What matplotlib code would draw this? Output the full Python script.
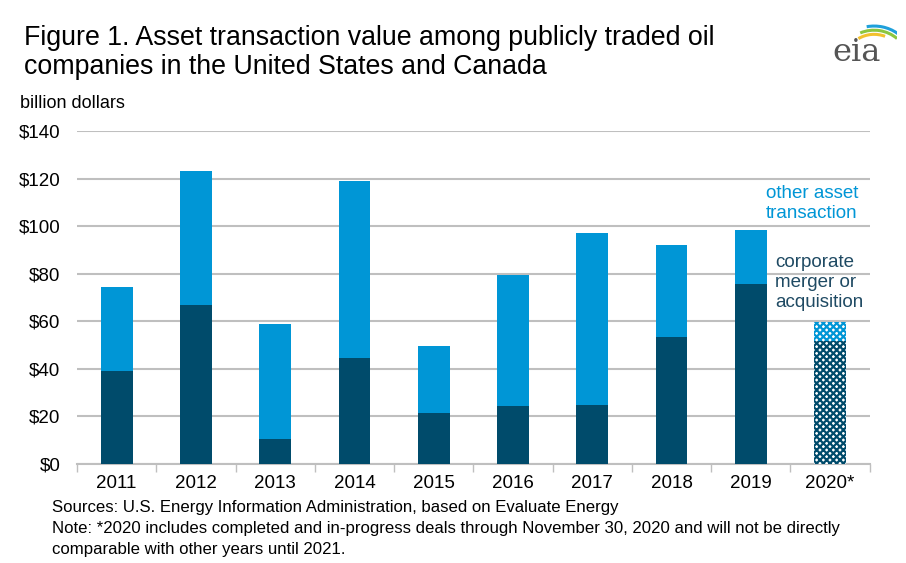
import matplotlib
matplotlib.use("Agg")
import matplotlib.pyplot as plt
from matplotlib.patches import Arc
from matplotlib import font_manager

years = ["2011", "2012", "2013", "2014", "2015", "2016", "2017", "2018", "2019", "2020*"]
merger = [39.0, 66.8, 10.3, 44.4, 21.3, 24.4, 24.9, 53.4, 75.9, 51.7]
total = [74.6, 123.1, 58.9, 118.9, 49.7, 79.6, 97.0, 92.3, 98.3, 59.9]
other = [t - m for t, m in zip(total, merger)]
yticks = [0, 20, 40, 60, 80, 100, 120, 140]

LIGHT = "#0096d6"
DARK = "#004b6b"
GRID = "#bfbfbf"
TEXT = "#000000"

names = {f.name for f in font_manager.fontManager.ttflist}
SANS = "Liberation Sans" if "Liberation Sans" in names else "DejaVu Sans"
NARROW = "Liberation Sans Narrow" if "Liberation Sans Narrow" in names else SANS
plt.rcParams["font.family"] = [SANS, "DejaVu Sans"]
plt.rcParams["hatch.linewidth"] = 1.6

fig = plt.figure(figsize=(9.06, 5.63), dpi=100)
ax = fig.add_axes([0.085, 0.176, 0.875, 0.591])

x = list(range(len(years)))
w = 0.4
n = len(years) - 1
ax.bar(x[:n], merger[:n], width=w, color=DARK, zorder=3)
ax.bar(x[:n], other[:n], width=w, bottom=merger[:n], color=LIGHT, zorder=3)
# 2020 partial year: checkered bars
ax.bar(x[n], merger[n], width=w, facecolor="white", edgecolor=DARK,
       hatch="xxxxx", linewidth=0, zorder=3)
ax.bar(x[n], other[n], width=w, bottom=merger[n], facecolor="white",
       edgecolor=LIGHT, hatch="xxxxx", linewidth=0, zorder=3)

ax.set_xlim(-0.5, len(years) - 0.5)
ax.set_ylim(0, 140)
ax.set_yticks(yticks)
ax.set_yticklabels([f"${v}" for v in yticks], fontsize=13.5, color=TEXT)
ax.tick_params(axis="y", length=0, pad=12)
ax.yaxis.grid(True, color=GRID, linewidth=1.5, zorder=0)
ax.set_axisbelow(True)

ax.set_xticks(x)
ax.set_xticklabels(years, fontsize=13.5, family=NARROW, color=TEXT)
ax.tick_params(axis="x", length=0, pad=8)
ax.set_xticks([i - 0.5 for i in range(len(years) + 1)], minor=True)
ax.tick_params(axis="x", which="minor", length=6, width=1, color=GRID)

for s in ["top", "right", "left"]:
    ax.spines[s].set_visible(False)
ax.spines["bottom"].set_color(GRID)
ax.spines["bottom"].set_linewidth(1.5)

ax.text(8.19, 117.5, "other asset\ntransaction", color=LIGHT, fontsize=13.5,
        ha="left", va="top", linespacing=1.25)
ax.text(8.31, 88.5, "corporate\nmerger or\nacquisition", color="#1f4a63",
        fontsize=13.5, ha="left", va="top", linespacing=1.25)

fig.text(0.027, 0.955, "Figure 1. Asset transaction value among publicly traded oil\n"
         "companies in the United States and Canada", fontsize=19.3,
         ha="left", va="top", linespacing=1.12, color=TEXT)
fig.text(0.022, 0.817, "billion dollars", fontsize=13, ha="left", va="center", color=TEXT)

fig.text(0.057, 0.099, "Sources: U.S. Energy Information Administration, based on Evaluate Energy",
         fontsize=12.1, family=NARROW, ha="left", va="center", color=TEXT)
fig.text(0.057, 0.061, "Note: *2020 includes completed and in-progress deals through November 30, "
         "2020 and will not be directly", fontsize=12.1, family=NARROW, ha="left",
         va="center", color=TEXT)
fig.text(0.057, 0.024, "comparable with other years until 2021.",
         fontsize=12.1, family=NARROW, ha="left", va="center", color=TEXT)

# eia logo
lax = fig.add_axes([0.9, 0.87, 0.09, 0.115])
lax.set_xlim(0, 1)
lax.set_ylim(0, 1)
lax.axis("off")
lax.text(0.5, 0.08, "eia", family="DejaVu Serif", fontsize=23, color="#555555",
         ha="center", va="bottom")
for r, c, t1, t2 in [(0.5, "#f2c12e", 70, 120), (0.58, "#8cc63f", 50, 112),
                     (0.66, "#1fa0db", 5, 100)]:
    lax.add_patch(Arc((0.72, 0.2), r * 1.4, r * 1.6, theta1=t1, theta2=t2,
                      color=c, linewidth=2.2))

fig.savefig("out.png", dpi=100)
